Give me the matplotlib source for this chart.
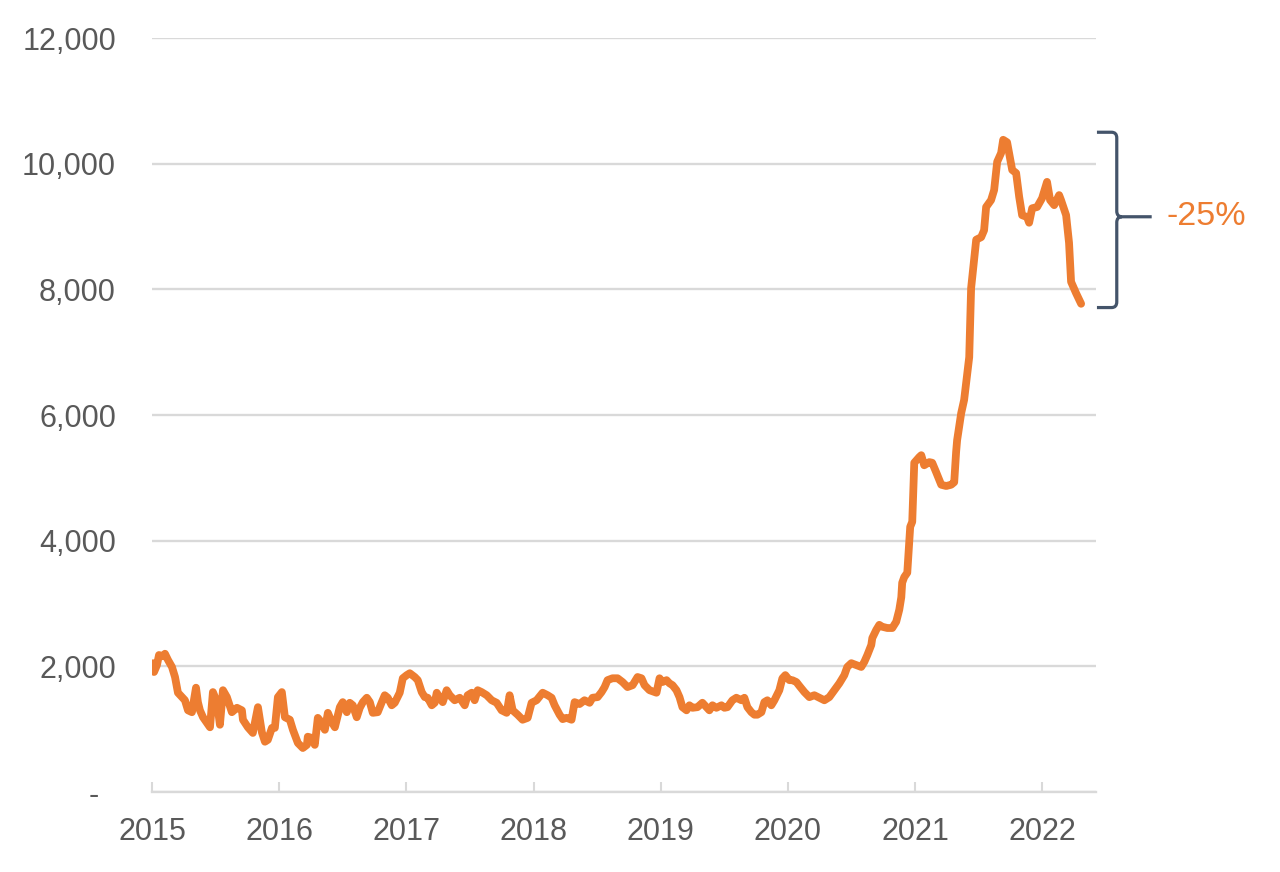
import matplotlib
matplotlib.use("Agg")
import matplotlib.pyplot as plt
from matplotlib.path import Path
from matplotlib.patches import PathPatch
from matplotlib.ticker import FuncFormatter

plt.rcParams['font.family'] = ['Liberation Sans', 'DejaVu Sans']

# years elapsed since start of 2015
years_offset = [
    0.008, 0.016, 0.039, 0.055, 0.086, 0.102, 0.126, 0.157, 0.181, 0.204,
    0.236, 0.259, 0.283, 0.314, 0.346, 0.361, 0.377, 0.401, 0.456, 0.479,
    0.511, 0.534, 0.558, 0.589, 0.628, 0.668, 0.707, 0.715, 0.754, 0.793,
    0.833, 0.864, 0.888, 0.911, 0.943, 0.966, 0.990, 1.021, 1.045, 1.084,
    1.108, 1.147, 1.186, 1.218, 1.225, 1.257, 1.280, 1.304, 1.335, 1.359,
    1.383, 1.414, 1.438, 1.477, 1.500, 1.532, 1.555, 1.579, 1.610, 1.634,
    1.658, 1.689, 1.713, 1.736, 1.775, 1.807, 1.830, 1.854, 1.885, 1.909,
    1.948, 1.972, 2.003, 2.027, 2.066, 2.090, 2.121, 2.145, 2.168, 2.200,
    2.223, 2.239, 2.262, 2.286, 2.317, 2.341, 2.380, 2.420, 2.459, 2.482,
    2.514, 2.537, 2.561, 2.592, 2.632, 2.671, 2.710, 2.749, 2.789, 2.812,
    2.836, 2.875, 2.914, 2.954, 2.985, 3.024, 3.072, 3.111, 3.142, 3.166,
    3.205, 3.229, 3.260, 3.299, 3.323, 3.362, 3.401, 3.441, 3.464, 3.504,
    3.535, 3.559, 3.582, 3.621, 3.661, 3.700, 3.739, 3.779, 3.818, 3.849,
    3.873, 3.912, 3.967, 3.991, 4.014, 4.046, 4.069, 4.093, 4.124, 4.148,
    4.171, 4.203, 4.226, 4.250, 4.289, 4.328, 4.360, 4.383, 4.407, 4.438,
    4.478, 4.501, 4.525, 4.564, 4.595, 4.635, 4.658, 4.682, 4.713, 4.737,
    4.760, 4.792, 4.815, 4.839, 4.870, 4.894, 4.933, 4.957, 4.980, 5.012,
    5.035, 5.067, 5.090, 5.130, 5.169, 5.208, 5.247, 5.287, 5.326, 5.365,
    5.405, 5.444, 5.467, 5.499, 5.538, 5.577, 5.601, 5.625, 5.656, 5.664,
    5.695, 5.719, 5.742, 5.782, 5.821, 5.852, 5.876, 5.892, 5.899, 5.915,
    5.939, 5.962, 5.978, 5.994, 6.033, 6.049, 6.072, 6.112, 6.135, 6.166,
    6.206, 6.245, 6.284, 6.308, 6.323, 6.331, 6.363, 6.386, 6.426, 6.441,
    6.481, 6.520, 6.543, 6.559, 6.598, 6.622, 6.646, 6.677, 6.693, 6.724,
    6.764, 6.795, 6.819, 6.842, 6.881, 6.897, 6.921, 6.960, 6.999, 7.038,
    7.062, 7.094, 7.133, 7.148, 7.188, 7.211, 7.227, 7.266, 7.306,
]

values = [
    2050, 1910, 2020, 2180, 2160, 2200, 2100, 1990, 1830, 1580,
    1510, 1460, 1300, 1270, 1660, 1430, 1300, 1190, 1030, 1590,
    1430, 1070, 1620, 1510, 1270, 1340, 1300, 1150, 1030, 940,
    1350, 950, 800, 830, 1020, 1020, 1510, 1590, 1190, 1150,
    990, 780, 700, 750, 880, 860, 750, 1180, 1100, 990,
    1260, 1110, 1030, 1350, 1430, 1270, 1420, 1380, 1190, 1340,
    1430, 1500, 1430, 1260, 1270, 1430, 1540, 1500, 1380, 1420,
    1580, 1810, 1860, 1890, 1830, 1780, 1590, 1510, 1500, 1380,
    1420, 1580, 1500, 1430, 1620, 1540, 1460, 1500, 1380, 1540,
    1580, 1460, 1620, 1590, 1540, 1460, 1420, 1300, 1260, 1540,
    1300, 1230, 1150, 1180, 1420, 1460, 1580, 1540, 1500, 1380,
    1230, 1160, 1180, 1150, 1430, 1400, 1460, 1420, 1500, 1510,
    1590, 1670, 1780, 1810, 1810, 1750, 1670, 1700, 1830, 1810,
    1700, 1620, 1580, 1810, 1750, 1780, 1730, 1700, 1620, 1510,
    1350, 1300, 1380, 1340, 1350, 1420, 1350, 1300, 1380, 1340,
    1380, 1340, 1350, 1460, 1500, 1460, 1500, 1350, 1270, 1230,
    1230, 1270, 1430, 1460, 1380, 1460, 1620, 1810, 1860, 1780,
    1780, 1750, 1690, 1590, 1510, 1540, 1500, 1460, 1510, 1620,
    1730, 1860, 1990, 2050, 2020, 1990, 2070, 2180, 2340, 2450,
    2580, 2660, 2630, 2610, 2610, 2710, 2900, 3100, 3330, 3420,
    3490, 4220, 4300, 5240, 5330, 5360, 5200, 5250, 5240, 5090,
    4890, 4870, 4890, 4930, 5410, 5600, 6030, 6240, 6920, 8020,
    8790, 8830, 8940, 9310, 9420, 9580, 10030, 10170, 10380, 10340,
    9900, 9850, 9470, 9180, 9150, 9060, 9290, 9310, 9450, 9710,
    9420, 9340, 9500, 9420, 9180, 8740, 8120, 7940, 7770,
]

start_year = 2015
x_ticks = [2015, 2016, 2017, 2018, 2019, 2020, 2021, 2022]
y_ticks = [0, 2000, 4000, 6000, 8000, 10000, 12000]
change_label = "-25%"

ORANGE = "#ED7D31"
GRID = "#D9D9D9"
TEXT = "#595959"
BRACKET = "#44546A"

fig = plt.figure(figsize=(12.8, 8.72), dpi=100)
ax = fig.add_axes([152 / 1280, 1 - 792 / 872, 944 / 1280, (792 - 38) / 872])

xs = [start_year + d for d in years_offset]
ax.plot(xs, values, color=ORANGE, lw=5.6, solid_joinstyle="round",
        solid_capstyle="round", zorder=3)

ax.set_xlim(2015, 2022.423)
ax.set_ylim(0, 12000)
ax.set_xticks(x_ticks)
ax.set_xticklabels([str(t) for t in x_ticks])
ax.set_yticks(y_ticks)
ax.yaxis.set_major_formatter(FuncFormatter(
    lambda v, p: "-  " if v == 0 else f"{int(v):,}"))

ax.grid(axis="y", color=GRID, lw=1.7)
ax.set_axisbelow(True)
for s in ["top", "right", "left"]:
    ax.spines[s].set_visible(False)
ax.spines["bottom"].set_color(GRID)
ax.spines["bottom"].set_linewidth(1.7)
ax.tick_params(axis="x", direction="in", length=7.5, width=1.5, color=GRID,
               pad=18, labelsize=22, labelcolor=TEXT)
ax.tick_params(axis="y", length=0, pad=26, labelsize=22, labelcolor=TEXT)

# bracket annotation (x in axes coords, y in data)
trans = ax.get_yaxis_transform()
peak = max(values)
last = values[-1]
top = peak + 120
bot = last - 60
mid = (top + bot) / 2 + 50
x0, xv, xm = 1.001, 1.022, 1.059
rx, ry = 0.0055, 90
verts = [
    (x0, top), (xv - rx, top), (xv, top), (xv, top - ry),
    (xv, mid + ry), (xv, mid), (xv + rx, mid), (xm, mid),
    (xv + rx, mid), (xv, mid), (xv, mid - ry),
    (xv, bot + ry), (xv, bot), (xv - rx, bot), (x0, bot),
]
codes = [
    Path.MOVETO, Path.LINETO, Path.CURVE3, Path.CURVE3,
    Path.LINETO, Path.CURVE3, Path.CURVE3, Path.LINETO,
    Path.MOVETO, Path.CURVE3, Path.CURVE3,
    Path.LINETO, Path.CURVE3, Path.CURVE3, Path.LINETO,
]
patch = PathPatch(Path(verts, codes), transform=trans, fill=False,
                  edgecolor=BRACKET, lw=2.3, clip_on=False,
                  capstyle="butt", joinstyle="round")
ax.add_patch(patch)
ax.text(1.075, mid, change_label, transform=trans, color=ORANGE,
        fontsize=24.5, ha="left", va="center", clip_on=False)

fig.savefig("out.png", dpi=100)
